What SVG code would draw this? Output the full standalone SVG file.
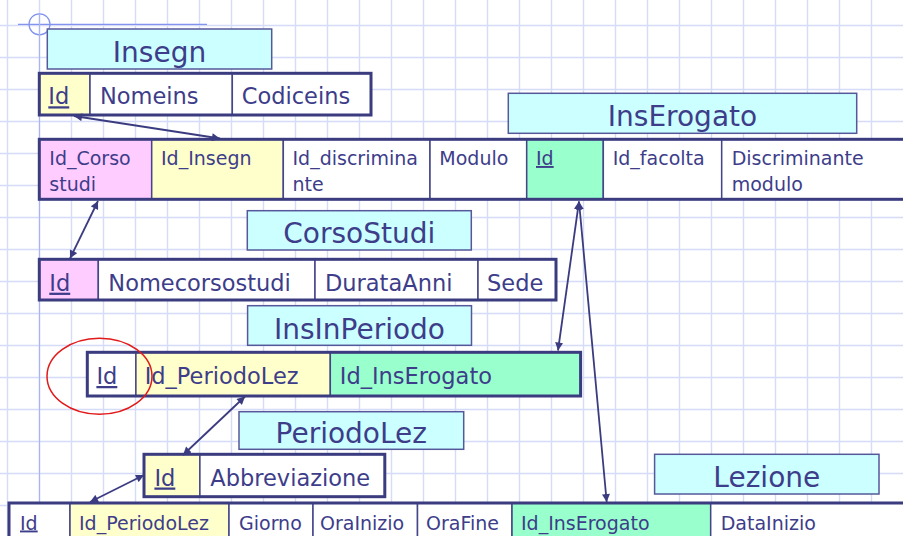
<svg xmlns="http://www.w3.org/2000/svg" width="903" height="536" viewBox="0 0 903 536">
<defs>
<style>
.grid{stroke:#d5dcf7;stroke-width:1.4;fill:none}
.ttl{fill:#ccffff;stroke:#55589a;stroke-width:1.5}
.tt{font-family:"DejaVu Sans",Verdana,sans-serif;font-size:28px;fill:#3d3d8a;text-anchor:middle}
.c{stroke:#45458a;stroke-width:1.5}
.w{fill:#ffffff}
.y{fill:#ffffcc}
.p{fill:#ffccff}
.g{fill:#99ffcc}
.frame{fill:none;stroke:#3b3b80;stroke-width:3}
.t{font-family:"DejaVu Sans",Verdana,sans-serif;font-size:22.5px;fill:#3d3d8a}
.s{font-family:"DejaVu Sans",Verdana,sans-serif;font-size:19px;fill:#3d3d8a}
.u{text-decoration:underline}
.ar{stroke:#3b3b80;stroke-width:1.8;fill:none;marker-start:url(#ah);marker-end:url(#ah)}
</style>
<marker id="ah" viewBox="0 0 10 10" refX="10" refY="5" markerUnits="userSpaceOnUse" markerWidth="10" markerHeight="8" orient="auto-start-reverse">
<path d="M0,0 L10,5 L0,10 z" fill="#3b3b80"/>
</marker>
</defs>
<rect width="903" height="536" fill="#ffffff"/>
<path class="grid" d="M7.5 0V536M39.5 0V536M71.5 0V536M103.5 0V536M135.5 0V536M167.5 0V536M199.5 0V536M231.5 0V536M263.5 0V536M295.5 0V536M327.5 0V536M359.5 0V536M391.5 0V536M423.5 0V536M455.5 0V536M487.5 0V536M519.5 0V536M551.5 0V536M583.5 0V536M615.5 0V536M647.5 0V536M679.5 0V536M711.5 0V536M743.5 0V536M775.5 0V536M807.5 0V536M839.5 0V536M871.5 0V536M0 25.5H903M0 57.5H903M0 89.5H903M0 121.5H903M0 153.5H903M0 185.5H903M0 217.5H903M0 249.5H903M0 281.5H903M0 313.5H903M0 345.5H903M0 377.5H903M0 409.5H903M0 441.5H903M0 473.5H903M0 505.5H903"/>
<g id="crosshair" fill="none">
<circle cx="39.5" cy="24.3" r="10.5" stroke="#8494ee" stroke-width="1.3"/>
<path d="M18 24.3H207" stroke="#8494ee" stroke-width="1.2"/>
<path d="M39.5 14V536" stroke="#a9b5f2" stroke-width="1.2"/>
</g>

<g id="Insegn">
<rect class="ttl" x="47.3" y="29" width="224.4" height="40"/>
<text class="tt" x="159.5" y="62.3">Insegn</text>
<rect class="c y" x="39.3" y="73.3" width="50.7" height="41.7"/>
<rect class="c w" x="90" y="73.3" width="142.3" height="41.7"/>
<rect class="c w" x="232.3" y="73.3" width="138.7" height="41.7"/>
<rect class="frame" x="39.3" y="73.3" width="331.7" height="41.7"/>
<text class="t u" x="48.3" y="104.3">Id</text>
<text class="t" x="100" y="104.3">Nomeins</text>
<text class="t" x="241.7" y="104.3">Codiceins</text>
</g>

<g id="InsErogato">
<rect class="ttl" x="508.3" y="93.3" width="348.4" height="40"/>
<text class="tt" x="682.5" y="125.7">InsErogato</text>
<rect class="c p" x="39.3" y="139.3" width="112.4" height="60"/>
<rect class="c y" x="151.7" y="139.3" width="131.6" height="60"/>
<rect class="c w" x="283.3" y="139.3" width="146.7" height="60"/>
<rect class="c w" x="430" y="139.3" width="96.7" height="60"/>
<rect class="c g" x="526.7" y="139.3" width="76.6" height="60"/>
<rect class="c w" x="603.3" y="139.3" width="118.4" height="60"/>
<rect class="c w" x="721.7" y="139.3" width="190" height="60"/>
<rect class="frame" x="39.3" y="139.3" width="880" height="60"/>
<text class="s" x="49.3" y="165">Id_Corso</text>
<text class="s" x="49.3" y="190.5">studi</text>
<text class="s" x="161" y="165">Id_Insegn</text>
<text class="s" x="292.5" y="165">Id_discrimina</text>
<text class="s" x="292.5" y="190.5">nte</text>
<text class="s" x="439.3" y="165">Modulo</text>
<text class="s u" x="536" y="165">Id</text>
<text class="s" x="612.7" y="165">Id_facolta</text>
<text class="s" x="731.7" y="165">Discriminante</text>
<text class="s" x="731.7" y="190.5">modulo</text>
</g>

<g id="CorsoStudi">
<rect class="ttl" x="247.3" y="210.7" width="224" height="39.3"/>
<text class="tt" x="359.3" y="243">CorsoStudi</text>
<rect class="c p" x="39.3" y="259.3" width="59" height="40.7"/>
<rect class="c w" x="98.3" y="259.3" width="216.7" height="40.7"/>
<rect class="c w" x="315" y="259.3" width="163" height="40.7"/>
<rect class="c w" x="478" y="259.3" width="78" height="40.7"/>
<rect class="frame" x="39.3" y="259.3" width="516.7" height="40.7"/>
<text class="t u" x="49.3" y="290.7">Id</text>
<text class="t" x="108.3" y="290.7">Nomecorsostudi</text>
<text class="t" x="325" y="290.7">DurataAnni</text>
<text class="t" x="487" y="290.7">Sede</text>
</g>

<g id="InsInPeriodo">
<rect class="ttl" x="247.6" y="305.7" width="223.9" height="39.6"/>
<text class="tt" x="359.5" y="338.5">InsInPeriodo</text>
<rect class="c w" x="87.3" y="352.3" width="48.6" height="43.7"/>
<rect class="c y" x="135.9" y="352.3" width="194.4" height="43.7"/>
<rect class="c g" x="330.3" y="352.3" width="250.3" height="43.7"/>
<rect class="frame" x="87.3" y="352.3" width="493.3" height="43.7"/>
<text class="t u" x="96.4" y="384">Id</text>
<text class="t" x="144.7" y="384">Id_PeriodoLez</text>
<text class="t" x="339.8" y="384">Id_InsErogato</text>
</g>

<g id="PeriodoLez">
<rect class="ttl" x="239" y="411.7" width="224.7" height="37.6"/>
<text class="tt" x="351.3" y="443">PeriodoLez</text>
<rect class="c y" x="144" y="454.3" width="55.9" height="42.4"/>
<rect class="c w" x="199.9" y="454.3" width="184.9" height="42.4"/>
<rect class="frame" x="144" y="454.3" width="240.8" height="42.4"/>
<text class="t u" x="154.4" y="485.5">Id</text>
<text class="t" x="210.3" y="485.5">Abbreviazione</text>
</g>

<g id="Lezione">
<rect class="ttl" x="654.6" y="454.3" width="224.4" height="39.7"/>
<text class="tt" x="766.8" y="487">Lezione</text>
<rect class="c w" x="9" y="503" width="61" height="50"/>
<rect class="c y" x="70" y="503" width="159" height="50"/>
<rect class="c w" x="229" y="503" width="84" height="50"/>
<rect class="c w" x="313" y="503" width="104.5" height="50"/>
<rect class="c w" x="417.5" y="503" width="94.5" height="50"/>
<rect class="c g" x="512" y="503" width="198.7" height="50"/>
<rect class="c w" x="710.7" y="503" width="200" height="50"/>
<rect class="frame" x="9" y="503" width="910" height="50"/>
<text class="s u" x="20" y="529.5">Id</text>
<text class="s" x="79" y="529.5">Id_PeriodoLez</text>
<text class="s" x="239" y="529.5">Giorno</text>
<text class="s" x="320" y="529.5">OraInizio</text>
<text class="s" x="426" y="529.5">OraFine</text>
<text class="s" x="521" y="529.5">Id_InsErogato</text>
<text class="s" x="720.7" y="529.5">DataInizio</text>
</g>

<g id="connectors">
<line class="ar" x1="74" y1="116" x2="220" y2="138.5"/>
<line class="ar" x1="98" y1="201" x2="70" y2="258.5"/>
<line class="ar" x1="579" y1="201.5" x2="558" y2="350.5"/>
<line class="ar" x1="579" y1="201.5" x2="606.7" y2="502"/>
<line class="ar" x1="245" y1="396.5" x2="183" y2="455"/>
<line class="ar" x1="144" y1="475" x2="90" y2="502"/>
</g>

<ellipse id="highlight" cx="99.5" cy="376.3" rx="52.5" ry="38" fill="none" stroke="#e21a1a" stroke-width="1.5"/>
</svg>
